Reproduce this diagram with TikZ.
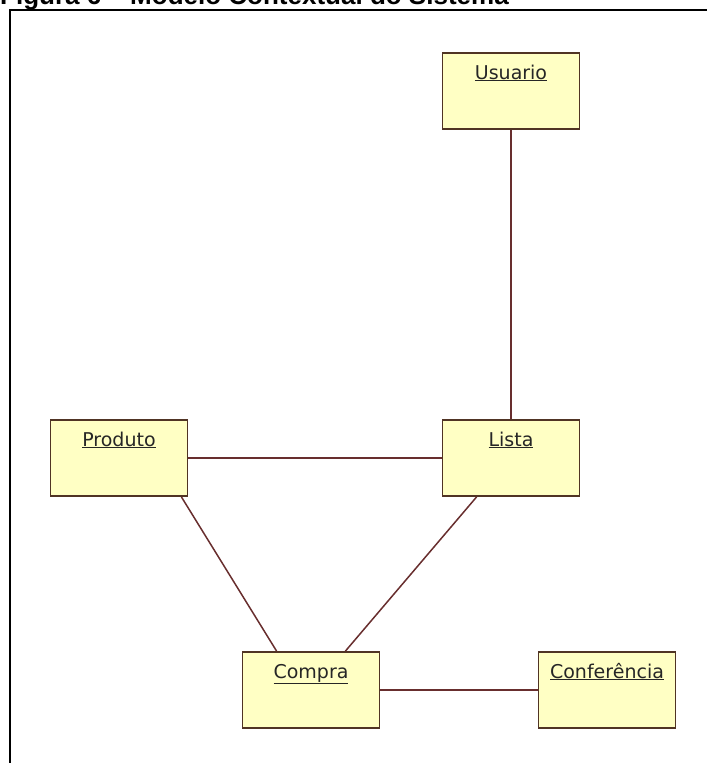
\documentclass[tikz,border=0pt]{standalone}
\usepackage{fontspec}
\setmainfont{DejaVu Sans}
\newfontfamily\titlefont{Liberation Sans}
\usepackage{xcolor}
\definecolor{boxfill}{RGB}{255,255,196}
\definecolor{boxline}{RGB}{80,52,36}
\definecolor{assocline}{RGB}{104,46,46}

\begin{document}
\begin{tikzpicture}[x=1pt,y=-1pt,
    classbox/.style={draw=boxline,line width=1.8pt,fill=boxfill,
      minimum width=137pt,minimum height=76pt,inner xsep=0pt,inner ysep=12pt,
      text height=14pt,text depth=38pt,font=\fontsize{19}{22}\selectfont,text=black!85},
    assoc/.style={assocline,line width=1.5pt}]
  \useasboundingbox (0,0) rectangle (707,763);
  \clip (0,0) rectangle (707,763);
  % caption, cut off at the top of the page
  \node[anchor=base west,inner sep=0pt,font=\titlefont\bfseries\fontsize{26}{30}\selectfont] (caption) at (0,4.5) {Figura 6 – Modelo Contextual do Sistema};
  \draw[line width=2.4pt] (10,763)--(10,10)--(707,10);
  % classes
  \node[classbox] (usuario) at (511,91) {\underline{Usuario}};
  \node[classbox] (produto) at (119,458) {\underline{Produto}};
  \node[classbox] (lista) at (511,458) {\underline{Lista}};
  \node[classbox] (compra) at (311,690) {\underline{Compra}};
  \node[classbox] (conferencia) at (607,690) {\underline{Conferência}};
  % associations
  \draw[assoc] (usuario) -- (lista);
  \draw[assoc] (produto) -- (lista);
  \draw[assoc] ([xshift=-7pt]produto.south east) -- ([xshift=35pt]compra.north west);
  \draw[assoc] ([xshift=35pt]lista.south west) -- ([xshift=-35pt]compra.north east);
  \draw[assoc] (compra) -- (conferencia);
\end{tikzpicture}
\end{document}
